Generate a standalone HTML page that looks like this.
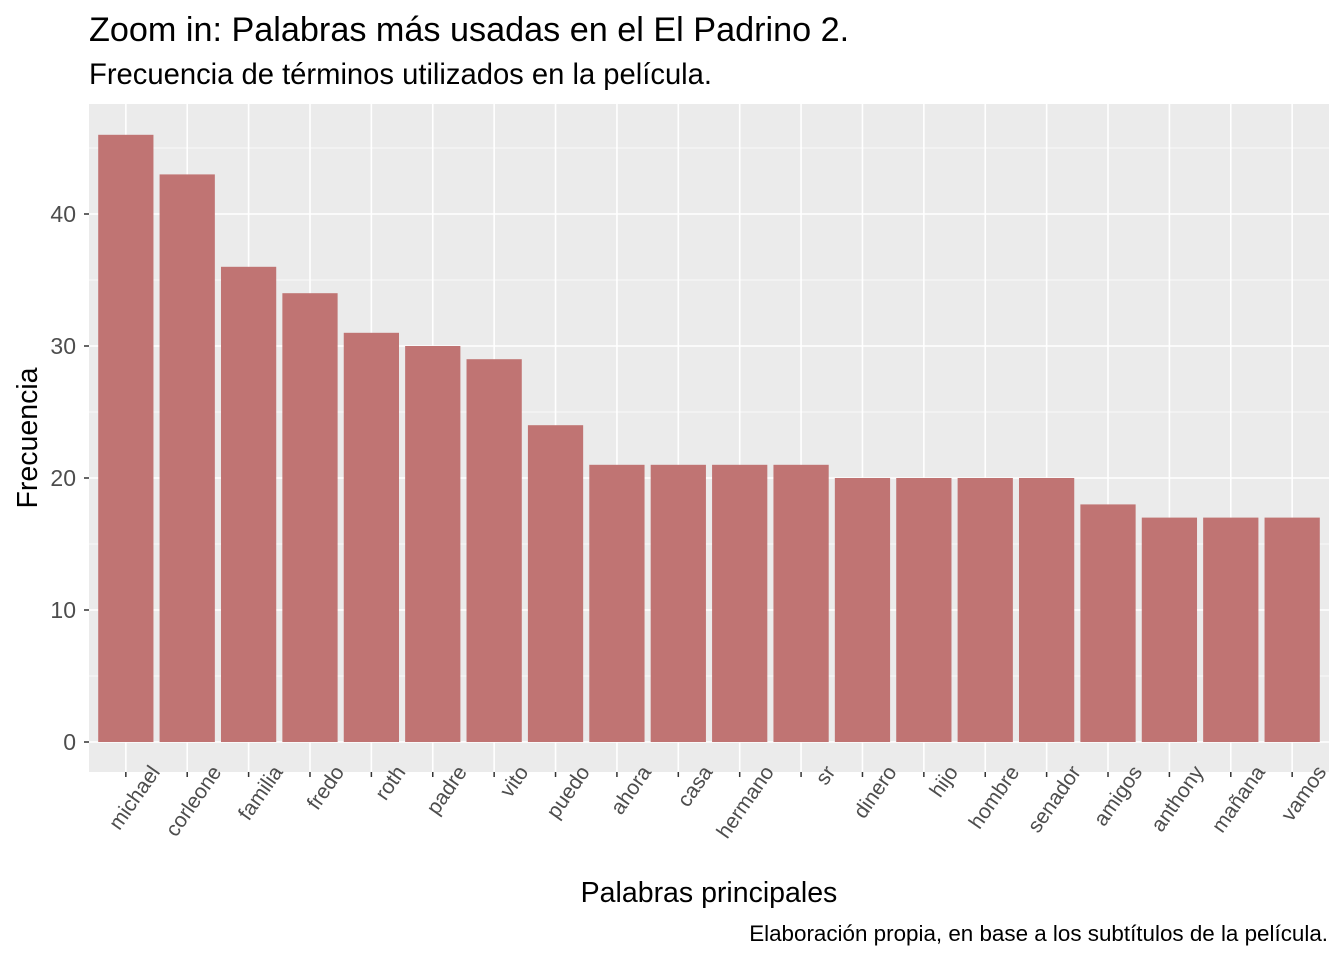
<!DOCTYPE html>
<html><head><meta charset="utf-8"><style>
body{margin:0;background:#fff;}
svg text{font-family:"Liberation Sans",Arial,sans-serif;}
</style></head><body>
<svg id="chart" width="1344" height="960" xmlns="http://www.w3.org/2000/svg">
<text x="89" y="41" font-size="34.2" fill="#000">Zoom in: Palabras más usadas en el El Padrino 2.</text>
<text x="89" y="84" font-size="29.2" fill="#000">Frecuencia de términos utilizados en la película.</text>
<rect x="89" y="104" width="1240" height="668" fill="#ebebeb"/>
<g id="grid"></g><g id="bars"></g><g id="axes"></g>
<text x="709" y="902" font-size="28.5" text-anchor="middle" fill="#000">Palabras principales</text>
<text transform="translate(37,438) rotate(-90)" font-size="28.5" text-anchor="middle" fill="#000">Frecuencia</text>
<text x="1328" y="941" font-size="22.4" text-anchor="end" fill="#000">Elaboración propia, en base a los subtítulos de la película.</text>
</svg>
<script>
const categories=["michael","corleone","familia","fredo","roth","padre","vito","puedo","ahora","casa","hermano","sr","dinero","hijo","hombre","senador","amigos","anthony","mañana","vamos"];
const values=[46,43,36,34,31,30,29,24,21,21,21,21,20,20,20,20,18,17,17,17];
const yTicks=[0,10,20,30,40];
const NS="http://www.w3.org/2000/svg";
const px0=89,px1=1329,y0=742,pxPerUnit=13.2;
const n=categories.length, step=(px1-px0)/(n+0.2);
const X=i=>px0+step*(0.6+i);
const Y=v=>y0-v*pxPerUnit;
function mk(tag,attrs,parent){const e=document.createElementNS(NS,tag);for(const k in attrs)e.setAttribute(k,attrs[k]);parent.appendChild(e);return e;}
const grid=document.getElementById('grid'),bars=document.getElementById('bars'),axes=document.getElementById('axes');
for(let v=5;v<=45;v+=10){const l=mk('line',{x1:px0,x2:px1,y1:Y(v),y2:Y(v),stroke:'#fff','stroke-width':0.8},grid);

}
yTicks.forEach(v=>{const l=mk('line',{x1:px0,x2:px1,y1:Y(v),y2:Y(v),stroke:'#fff','stroke-width':1.6},grid);


const t=mk('line',{x1:84,x2:89,y1:Y(v),y2:Y(v),stroke:'#333','stroke-width':1.5},axes);


const tx=mk('text',{x:76,y:Y(v)+8,'font-size':23,'text-anchor':'end',fill:'#4d4d4d'},axes);tx.textContent=v;

});
categories.forEach((c,i)=>{const x=X(i);
const g=mk('line',{x1:x,x2:x,y1:104,y2:772,stroke:'#fff','stroke-width':1.6},grid);


const bw=step*0.9;
const r=mk('rect',{x:x-bw/2,y:Y(values[i]),width:bw,height:y0-Y(values[i]),fill:'#c07473'},bars);


const t=mk('line',{x1:x,x2:x,y1:772,y2:777,stroke:'#333','stroke-width':1.5},axes);


const tx=mk('text',{transform:`translate(${x+35},${772}) rotate(-55)`,'font-size':21,'text-anchor':'end',fill:'#4d4d4d'},axes);tx.textContent=c;

});
</script>
</body></html>
